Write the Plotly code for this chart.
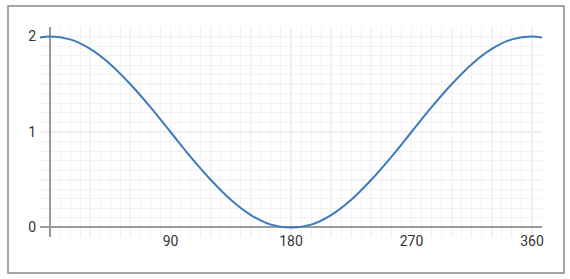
import plotly.graph_objects as go

# angle in degrees and curve values
angles = [-15, 0, 15, 30, 45, 60, 75, 90, 105, 120, 135, 150, 165, 180,
          195, 210, 225, 240, 255, 270, 285, 300, 315, 330, 345, 360, 375]
values = [1.97, 2.00, 1.97, 1.87, 1.71, 1.50, 1.26, 1.00, 0.74, 0.50, 0.29, 0.13, 0.03, 0.00,
          0.03, 0.13, 0.29, 0.50, 0.74, 1.00, 1.26, 1.50, 1.71, 1.87, 1.97, 2.00, 1.97]
x_ticks = [90, 180, 270, 360]
y_ticks = [0, 1, 2]

fig = go.Figure()
fig.add_trace(go.Scatter(x=angles, y=values, mode="lines",
                         line=dict(color="#3d7bbd", width=2, shape="spline"),
                         hoverinfo="skip"))

font = dict(family="Roboto, Arial, sans-serif", size=14, color="#333333")
fig.update_layout(
    width=570, height=279,
    margin=dict(l=40, r=28, t=27, b=42),
    paper_bgcolor="white", plot_bgcolor="white",
    showlegend=False,
    font=font,
    xaxis=dict(range=[-7.5, 367.5], tickmode="array", tickvals=x_ticks,
               ticktext=[str(v) for v in x_ticks],
               showgrid=False,
               zeroline=True, zerolinecolor="#999999", zerolinewidth=1.5,
               showline=False, ticks="",
               anchor="free", position=0.03,
               minor=dict(tickmode="linear", tick0=0, dtick=7.5, showgrid=True,
                          gridcolor="#f1f1f1", gridwidth=1),
               fixedrange=True),
    yaxis=dict(range=[-0.1, 2.1], tickmode="array", tickvals=y_ticks,
               ticktext=[str(v) for v in y_ticks],
               showgrid=False,
               zeroline=True, zerolinecolor="#999999", zerolinewidth=1.5,
               showline=False, ticks="", ticklabelstandoff=3,
               minor=dict(tickmode="linear", tick0=0, dtick=0.1, showgrid=True,
                          gridcolor="#f1f1f1", gridwidth=1),
               fixedrange=True),
)
# major grid lines (every 30 deg, every 0.5)
for gx in range(0, 361, 30):
    fig.add_vline(x=gx, line=dict(color="#dddddd", width=1), layer="below")
for gy in [0.5, 1.0, 1.5, 2.0]:
    fig.add_hline(y=gy, line=dict(color="#dddddd", width=1), layer="below")

# outer frame
fig.add_shape(type="rect", xref="paper", yref="paper",
              x0=-0.0637, x1=1.0438, y0=-0.1714, y1=1.1,
              line=dict(color="#888888", width=1.5), fillcolor="rgba(0,0,0,0)")

fig.write_html("out.html")
